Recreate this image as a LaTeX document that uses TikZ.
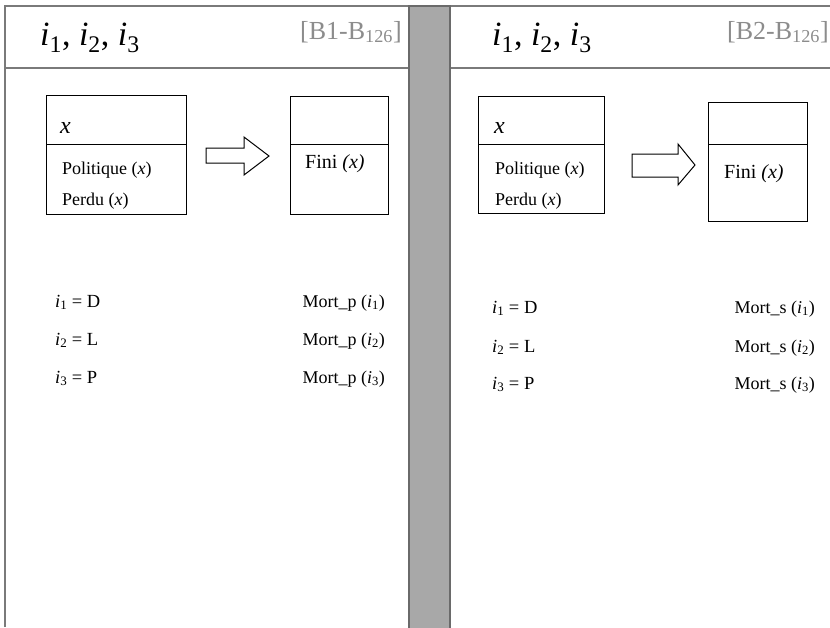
\documentclass[tikz,border=0pt]{standalone}
\usepackage{fontspec}
\setmainfont{Liberation Serif}
\newcommand\iv[1]{\textit{i}\textsubscript{#1}}
\definecolor{frame}{HTML}{7A7A7A}
\definecolor{bar}{HTML}{A8A8A8}
\definecolor{bardark}{HTML}{6A6A6A}
\definecolor{tagc}{HTML}{8C8C8C}
\begin{document}
\begin{tikzpicture}[x=1pt,y=-1pt,
  txt/.style={inner sep=0pt,anchor=base west},
  hdr/.style={txt,font=\fontsize{34}{40}\selectfont},
  tag/.style={txt,text=tagc,font=\fontsize{26}{30}\selectfont},
  var/.style={txt,font=\fontsize{24}{28}\selectfont\itshape},
  pred/.style={txt,font=\fontsize{18}{22}\selectfont},
  fini/.style={txt,font=\fontsize{20}{24}\selectfont},
  eqn/.style={txt,font=\fontsize{18.5}{22}\selectfont},
  mort/.style={inner sep=0pt,anchor=base east,font=\fontsize{18}{22}\selectfont},
  box/.style={draw=black,line width=1pt,inner sep=0pt,anchor=north west},
  panel/.style={draw=frame,line width=1.5pt},
  blk/.style={draw=black,line width=1pt,fill=white,line join=miter}]
\useasboundingbox (0,0) rectangle (830,627);
\clip (0,0) rectangle (830,627);
\fill[white] (0,0) rectangle (830,627);

% panel frame lines
\draw[panel] (5,627) -- (5,6) -- (830,6);
\draw[panel] (5,68) -- (830,68);

% separator bar
\draw[bardark,fill=bar,line width=1.2pt] (409,6) rectangle (450,630);

% ---------- left panel ----------
\node[hdr] (hL) at (40,45) {\iv1, \iv2, \iv3};
\node[tag] (tL) at (300,39) {[B1-B\textsubscript{126}]};

\node[box,minimum width=140pt,minimum height=119pt] (aL) at (46,95) {};
\draw[line width=1pt] (aL.west |- 0,144) -- (aL.east |- 0,144);
\node[var] (xL) at (60,133) {x};
\node[pred] (pL) at (62,174) {Politique (\textit{x})};
\node[pred] (qL) at (62,205) {Perdu (\textit{x})};

\draw[blk] (206,148) -- (244,148) -- (244,137) -- (269,156) -- (244,175)
  -- (244,163) -- (206,163) -- cycle;

\node[box,minimum width=98pt,minimum height=118pt] (bL) at (290,96) {};
\draw[line width=1pt] (bL.west |- 0,144) -- (bL.east |- 0,144);
\node[fini] (fL) at (305,168) {Fini \textit{(x)}};

\node[eqn] (e1L) at (55,307) {\iv1 = D};
\node[eqn] (e2L) at (55,345) {\iv2 = L};
\node[eqn] (e3L) at (55,383) {\iv3 = P};
\node[mort] (m1L) at (385,307) {Mort\_p (\iv1)};
\node[mort] (m2L) at (385,345) {Mort\_p (\iv2)};
\node[mort] (m3L) at (385,383) {Mort\_p (\iv3)};

% ---------- right panel ----------
\node[hdr] (hR) at (492,45) {\iv1, \iv2, \iv3};
\node[tag] (tR) at (727,39) {[B2-B\textsubscript{126}]};

\node[box,minimum width=126pt,minimum height=117pt] (aR) at (478,96) {};
\draw[line width=1pt] (aR.west |- 0,144) -- (aR.east |- 0,144);
\node[var] (xR) at (494,133) {x};
\node[pred] (pR) at (495,174) {Politique (\textit{x})};
\node[pred] (qR) at (495,205) {Perdu (\textit{x})};

\draw[blk] (632,154) -- (678,154) -- (678,144) -- (695,165) -- (678,185)
  -- (678,177) -- (632,177) -- cycle;

\node[box,minimum width=99pt,minimum height=119pt] (bR) at (708,102) {};
\draw[line width=1pt] (bR.west |- 0,144) -- (bR.east |- 0,144);
\node[fini] (fR) at (724,178) {Fini \textit{(x)}};

\node[eqn] (e1R) at (492,313) {\iv1 = D};
\node[eqn] (e2R) at (492,352) {\iv2 = L};
\node[eqn] (e3R) at (492,389) {\iv3 = P};
\node[mort] (m1R) at (815,313) {Mort\_s (\iv1)};
\node[mort] (m2R) at (815,352) {Mort\_s (\iv2)};
\node[mort] (m3R) at (815,389) {Mort\_s (\iv3)};
\end{tikzpicture}
\end{document}
